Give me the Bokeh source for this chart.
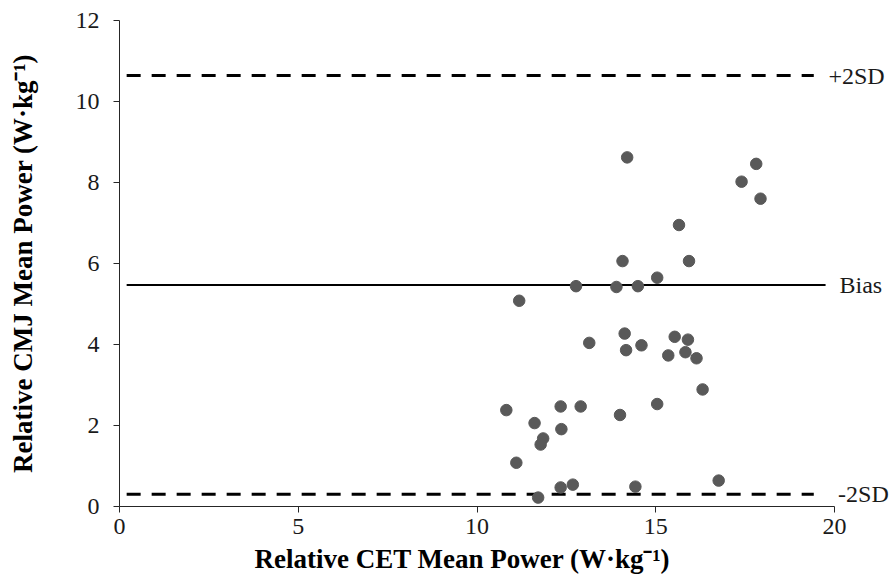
from bokeh.plotting import figure
from bokeh.models import Label, FixedTicker, Title
from bokeh.embed import file_html
from bokeh.resources import INLINE

# Data
cet = [14.2, 17.81, 17.4, 17.93, 15.65, 14.07, 15.93, 15.04, 12.77, 13.9, 14.5,
       11.18, 14.13, 15.53, 15.9, 13.14, 14.17, 14.6, 15.35, 15.83, 16.14, 16.31,
       10.82, 12.34, 12.9, 11.61, 12.36, 15.04, 14.0, 11.85, 11.78, 11.1, 12.34,
       12.68, 11.71, 14.43, 16.76]
cmj = [8.62, 8.46, 8.02, 7.6, 6.95, 6.06, 6.06, 5.65, 5.44, 5.42, 5.44,
       5.08, 4.27, 4.19, 4.12, 4.04, 3.86, 3.98, 3.73, 3.81, 3.66, 2.89,
       2.38, 2.47, 2.47, 2.06, 1.91, 2.53, 2.26, 1.68, 1.53, 1.08, 0.47,
       0.54, 0.22, 0.49, 0.64]
bias = 5.47
upper = 10.64
lower = 0.30
line_start = 0.2
bias_end = 19.75
sd_end = 19.42
x_ticks = [0, 5, 10, 15, 20]
y_ticks = [0, 2, 4, 6, 8, 10, 12]
ref_labels = ["+2SD", "Bias", "-2SD"]
x_title = "Relative CET Mean Power (W·kg⁻¹)"
y_title = "Relative CMJ Mean Power (W·kg⁻¹)"

FONT = "'Liberation Serif', 'Times New Roman', serif"

p = figure(width=889, height=580, output_backend="svg", toolbar_location=None,
           x_range=(0, 21.538), y_range=(0, 12),
           min_border_left=119, min_border_right=0, min_border_top=20,
           min_border_bottom=74)
p.outline_line_color = None
p.grid.visible = False
p.background_fill_color = "white"
p.border_fill_color = "white"

# reference lines
p.line([line_start, bias_end], [bias, bias], line_color="black", line_width=2)
p.line([line_start, sd_end], [upper, upper], line_color="black", line_width=3,
       line_dash="14 11")
p.line([line_start, sd_end], [lower, lower], line_color="black", line_width=3,
       line_dash="14 11")

p.scatter(cet, cmj, size=11.5, fill_color="#595959", line_color="#595959")

for lab, yv, xv in zip(ref_labels, [upper, bias, lower], [19.83, 20.14, 20.1]):
    p.add_layout(Label(x=xv, y=yv, text=lab, text_font=FONT, text_font_size="24px",
                       text_baseline="middle", text_align="left", text_color="#1a1a1a"))

for ax in (p.xaxis[0], p.yaxis[0]):
    ax.axis_line_color = "#262626"
    ax.axis_line_width = 1
    ax.major_tick_line_color = "#262626"
    ax.major_tick_in = 0
    ax.major_tick_out = 6
    ax.minor_tick_line_color = None
    ax.major_label_text_font = FONT
    ax.major_label_text_font_size = "24px"
    ax.major_label_text_color = "#1a1a1a"
    ax.axis_label_text_font = FONT
    ax.axis_label_text_font_size = "27px"
    ax.axis_label_text_font_style = "bold"
    ax.axis_label_text_color = "#000000"

p.xaxis[0].bounds = (0, 20)
p.xaxis[0].ticker = FixedTicker(ticks=x_ticks)
p.yaxis[0].ticker = FixedTicker(ticks=y_ticks)
p.yaxis[0].axis_label = y_title
p.xaxis[0].major_label_standoff = 6
p.yaxis[0].major_label_standoff = 14
p.yaxis[0].axis_label_standoff = 35

xt = Title(text=x_title, align="left", offset=135, text_font=FONT,
           text_font_size="27px", text_font_style="bold", text_color="#000000",
           standoff=11)
p.add_layout(xt, "below")

open("out.html", "w").write(file_html(p, INLINE))
